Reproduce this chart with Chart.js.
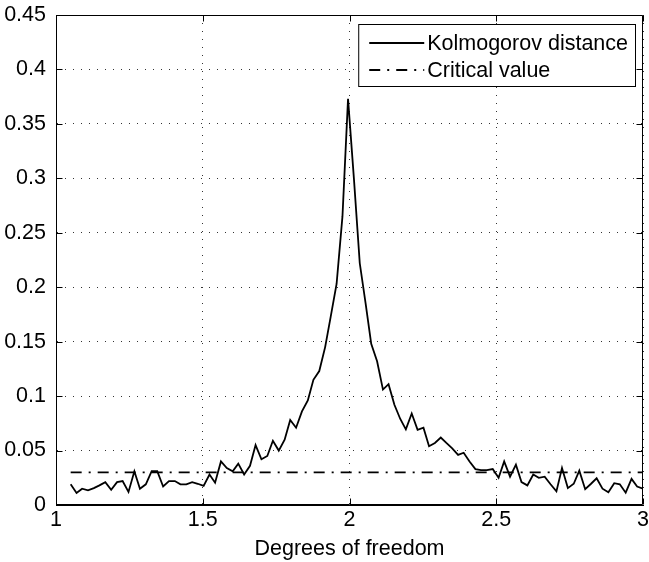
<!DOCTYPE html>
<html lang="en">
<head>
  <meta charset="UTF-8">
  <title>Kolmogorov distance</title>
  <script src="https://cdn.jsdelivr.net/npm/chart.js"></script>
  <style>
    html, body { margin: 0; padding: 0; background: #fff; }
    #grafico { display: block; }
  </style>
</head>
<body>
<canvas id="grafico" width="649" height="562"></canvas>
<script>

  // degrees of freedom (x)
  const grausLiberdade = [
    1.050, 1.070, 1.089, 1.109, 1.129, 1.148, 1.168, 1.188, 1.208, 1.227,
    1.247, 1.267, 1.286, 1.306, 1.326, 1.345, 1.365, 1.385, 1.405, 1.424,
    1.444, 1.464, 1.483, 1.503, 1.523, 1.542, 1.562, 1.582, 1.602, 1.621,
    1.641, 1.661, 1.680, 1.700, 1.720, 1.739, 1.759, 1.779, 1.798, 1.818,
    1.838, 1.858, 1.877, 1.897, 1.917, 1.936, 1.956, 1.976, 1.995, 2.015,
    2.035, 2.055, 2.074, 2.094, 2.114, 2.133, 2.153, 2.173, 2.192, 2.212,
    2.232, 2.252, 2.271, 2.291, 2.311, 2.330, 2.350, 2.370, 2.389, 2.409,
    2.429, 2.448, 2.468, 2.488, 2.508, 2.527, 2.547, 2.567, 2.586, 2.606,
    2.626, 2.645, 2.665, 2.685, 2.705, 2.724, 2.744, 2.764, 2.783, 2.803,
    2.823, 2.842, 2.862, 2.882, 2.902, 2.921, 2.941, 2.961, 2.980, 3.000
  ];

  const distanciaKolmogorov = [
    0.019, 0.011, 0.015, 0.0135, 0.0155, 0.018, 0.021, 0.014, 0.021, 0.022,
    0.012, 0.031, 0.015, 0.019, 0.031, 0.031, 0.017, 0.022, 0.022, 0.019,
    0.019, 0.021, 0.0195, 0.0175, 0.028, 0.0205, 0.040, 0.034, 0.031, 0.038,
    0.028, 0.036, 0.055, 0.042, 0.045, 0.059, 0.050, 0.060, 0.078, 0.071,
    0.086, 0.096, 0.115, 0.123, 0.145, 0.173, 0.203, 0.265, 0.373, 0.300,
    0.222, 0.185, 0.148, 0.132, 0.106, 0.111, 0.092, 0.079, 0.0695, 0.084,
    0.069, 0.071, 0.054, 0.057, 0.062, 0.057, 0.052, 0.046, 0.048, 0.040,
    0.033, 0.032, 0.032, 0.033, 0.025, 0.040, 0.026, 0.037, 0.021, 0.018,
    0.028, 0.025, 0.026, 0.019, 0.0125, 0.034, 0.0155, 0.0195, 0.0315, 0.0145,
    0.0195, 0.0245, 0.015, 0.0117, 0.020, 0.019, 0.0113, 0.024, 0.017, 0.015
  ];

  const valorCriticoX = [1.05, 3];
  const valorCriticoY = [0.03, 0.03];

  const ticksX = [1, 1.5, 2, 2.5, 3];
  const ticksY = [0, 0.05, 0.1, 0.15, 0.2, 0.25, 0.3, 0.35, 0.4, 0.45];

  const fonte = { family: "'Liberation Sans', Arial, sans-serif", size: 21.5 };
  const tracoCritico = [11, 7, 2, 7];

  function juntarPontos(xs, ys) {
    return xs.map((x, i) => ({ x: x, y: ys[i] }));
  }

  // box around the axes + MATLAB style inward ticks
  const caixaEixos = {
    id: 'caixaEixos',
    afterDatasetsDraw(chart) {
      const { ctx, chartArea: a, scales } = chart;
      const esq = Math.round(a.left) + 0.5, dir = Math.round(a.right) - 0.5;
      const topo = Math.round(a.top) + 0.5, base = Math.round(a.bottom) - 0.5;
      ctx.save();
      ctx.strokeStyle = '#000';
      ctx.lineWidth = 1;
      ctx.beginPath();
      ctx.rect(esq, topo, dir - esq, base - topo);
      scales.x.ticks.forEach(t => {
        const px = Math.round(scales.x.getPixelForValue(t.value)) + 0.5;
        ctx.moveTo(px, base); ctx.lineTo(px, base - 6);
        ctx.moveTo(px, topo); ctx.lineTo(px, topo + 6);
      });
      scales.y.ticks.forEach(t => {
        const py = Math.round(scales.y.getPixelForValue(t.value)) + 0.5;
        ctx.moveTo(esq, py); ctx.lineTo(esq + 6, py);
        ctx.moveTo(dir, py); ctx.lineTo(dir - 6, py);
      });
      ctx.stroke();
      ctx.restore();
    }
  };

  // legend drawn inside the plot, top right
  const legendaInterna = {
    id: 'legendaInterna',
    afterDraw(chart) {
      const { ctx, chartArea: a } = chart;
      ctx.save();
      ctx.font = fonte.size + 'px ' + fonte.family;
      const textos = chart.data.datasets.map(d => d.label);
      const largTexto = Math.max(...textos.map(t => ctx.measureText(t).width));
      const larg = 11 + 55 + 3 + largTexto + 7;
      const alt = 62;
      const dir = Math.round(a.right) - 8;
      const x0 = dir - larg, y0 = Math.round(a.top) + 9;
      ctx.fillStyle = '#fff';
      ctx.fillRect(x0, y0, larg, alt);
      ctx.strokeStyle = '#000';
      ctx.lineWidth = 1;
      ctx.strokeRect(x0 + 0.5, y0 + 0.5, larg, alt);
      chart.data.datasets.forEach((d, i) => {
        const yl = y0 + 19 + i * 27;
        ctx.beginPath();
        ctx.setLineDash(d.borderDash || []);
        ctx.lineWidth = d.borderWidth;
        ctx.strokeStyle = d.borderColor;
        ctx.moveTo(x0 + 11, yl);
        ctx.lineTo(x0 + 66, yl);
        ctx.stroke();
        ctx.setLineDash([]);
        ctx.fillStyle = '#000';
        ctx.textBaseline = 'middle';
        ctx.fillText(d.label, x0 + 69, yl + 1);
      });
      ctx.restore();
    }
  };

  const ctx = document.getElementById('grafico').getContext('2d');

  new Chart(ctx, {
    type: 'line',
    data: {
      datasets: [
        {
          label: 'Kolmogorov distance',
          data: juntarPontos(grausLiberdade, distanciaKolmogorov),
          borderColor: '#000',
          borderWidth: 1.8,
          pointRadius: 0,
          tension: 0,
          fill: false
        },
        {
          label: 'Critical value',
          data: juntarPontos(valorCriticoX, valorCriticoY),
          borderColor: '#000',
          borderWidth: 1.8,
          borderDash: tracoCritico,
          pointRadius: 0,
          tension: 0,
          fill: false
        }
      ]
    },
    options: {
      responsive: false,
      animation: false,
      layout: { padding: { left: 0, right: 6, top: 15, bottom: 0 } },
      plugins: {
        legend: { display: false },
        tooltip: { enabled: false }
      },
      scales: {
        x: {
          type: 'linear',
          min: 1,
          max: 3,
          afterBuildTicks: s => { s.ticks = ticksX.map(v => ({ value: v })); },
          afterFit: s => {
            s.height = 57;
            s.paddingLeft = 0;
            s.paddingRight = 0;
          },
          ticks: {
            color: '#000',
            font: fonte,
            padding: 2,
            maxRotation: 0,
            callback: v => String(v)
          },
          grid: { color: '#333', lineWidth: 1, drawTicks: false },
          border: { color: '#000', dash: [1, 7] },
          title: {
            display: true,
            text: 'Degrees of freedom',
            color: '#000',
            font: fonte,
            padding: { top: 0, bottom: 0 }
          }
        },
        y: {
          min: 0,
          max: 0.45,
          afterBuildTicks: s => { s.ticks = ticksY.map(v => ({ value: v })); },
          afterFit: s => {
            s.width = 56;
            s.paddingTop = 0;
            s.paddingBottom = 0;
          },
          ticks: {
            color: '#000',
            font: fonte,
            padding: 10,
            callback: v => String(Number(v.toFixed(2)))
          },
          grid: { color: '#333', lineWidth: 1, drawTicks: false },
          border: { color: '#000', dash: [1, 7] }
        }
      }
    },
    plugins: [caixaEixos, legendaInterna]
  });

</script>
</body>
</html>
